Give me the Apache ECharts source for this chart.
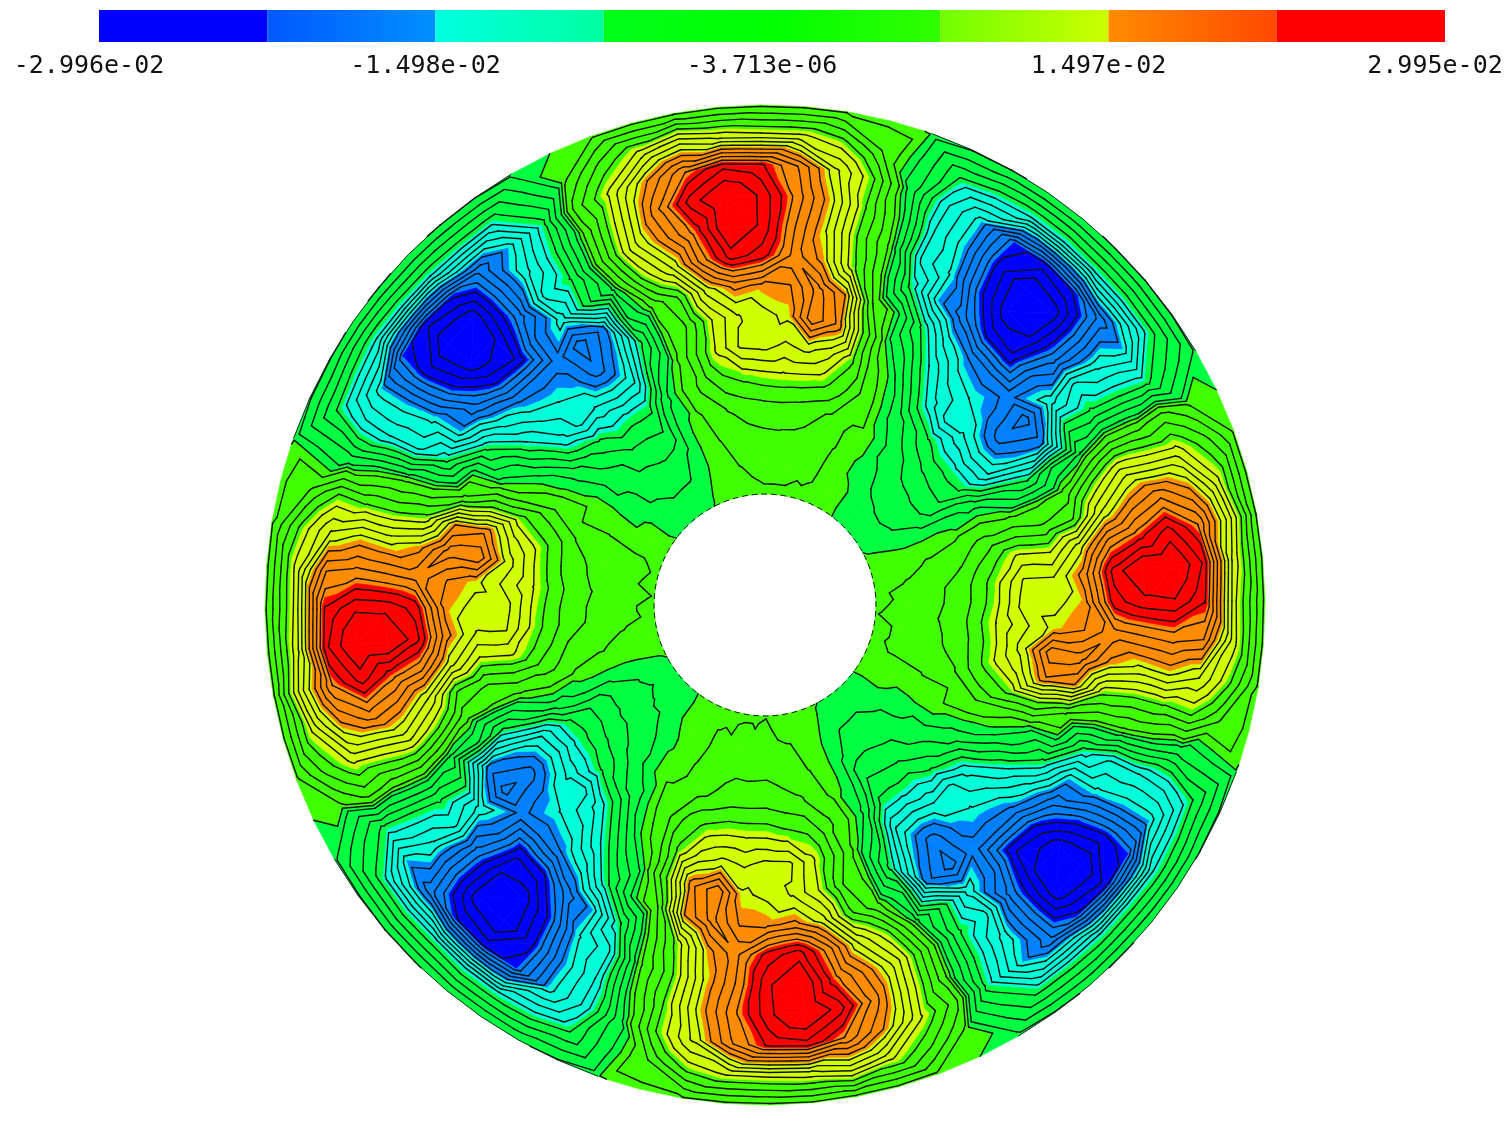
<!DOCTYPE html>
<html><head><meta charset="utf-8">
<style>html,body{margin:0;padding:0;background:#fff}#c{width:1509px;height:1135px}</style>
<script src="https://cdn.jsdelivr.net/npm/echarts@6/dist/echarts.min.js"></script>
</head><body><div id="c"></div>
<script>
// colour bar
const tickLabels = ['-2.996e-02','-1.498e-02','-3.713e-06','1.497e-02','2.995e-02'];
const barStart = ['#0000ff','#0058ff','#00ffe0','#00ff18','#00ff00','#70ff00','#ff8c00','#ff0000'];
const barEnd   = ['#0000ff','#0090ff','#00ffa0','#00ff00','#30ff00','#ccff00','#ff4800','#ff0000'];
// bands of the field, in units of 1e-4
const bandEdges = [-300,-225,-150,-75,0,75,150,225,300];
const bandColors = ['#0000ff','#0080ff','#00ffd8','#00ff40','#40ff00','#d0ff00','#ff8c00','#ff0000'];
const contourLevels = [-271.9,-253.1,-234.4,-215.6,-196.9,-178.1,-159.4,-140.6,-121.9,-103.1,-84.4,-65.6,-46.9,-28.1,-9.4,0,9.4,28.1,46.9,65.6,84.4,103.1,121.9,140.6,159.4,178.1,196.9,215.6,234.4,253.1,271.9];
// radii of the rows, angle of the first column and angle step
const radii = [500,470,440,410,380,350,320,290,260,230,200,170,140,111];
const firstAngle = 115.5, angleStep = -5;
// one table per sector, rows follow radii
const sector1 = [
[0,5,6,6,6,5,6,7,5],
[4,52,88,118,98,90,90,72,26],
[37,90,160,215,250,238,195,125,65],
[20,100,190,262,298,268,208,145,62],
[25,108,170,225,298,268,198,138,58],
[-5,70,122,205,262,245,192,152,72],
[-25,15,50,130,165,155,158,205,160],
[-70,5,30,85,120,135,145,212,175],
[-40,3,45,90,125,130,118,128,110],
[-12,12,37,62,72,78,80,78,72],
[-5,3,18,30,38,42,43,40,33],
[-4,2,9,15,21,24,25,24,20],
[-2,2,6,9,11,12,12,12,11],
[1,2,3,5,7,8,8,8,7]];
const sector2 = [
[-1,-8,-9,-10,-10,-9,-9,-8,-5],
[-12,-65,-78,-85,-85,-80,-80,-76,-40],
[-20,-100,-150,-226,-245,-232,-190,-150,-75],
[-5,-105,-155,-240,-296,-285,-205,-125,-65],
[2,-110,-145,-228,-285,-275,-205,-100,-60],
[8,-70,-150,-190,-240,-250,-175,-130,-55],
[30,-5,-70,-130,-160,-170,-165,-205,-170],
[70,0,-35,-85,-125,-140,-155,-190,-150],
[70,15,-5,-50,-95,-130,-120,-135,-125],
[55,25,3,-15,-40,-60,-75,-75,-70],
[25,10,8,-3,-15,-30,-40,-45,-45],
[15,8,3,-3,-8,-15,-20,-22,-20],
[12,6,3,1,-2,-6,-8,-9,-6],
[5,3,2,1,-1,-3,-3,-3,-1]];
const sector3 = [
[0,6,6,7,6,5,6,6,5],
[5,54,87,119,99,88,92,70,25],
[36,92,158,217,252,236,197,123,66],
[22,99,192,260,297,270,207,147,60],
[24,110,168,227,298,266,199,137,59],
[-6,68,124,204,260,246,190,154,70],
[-24,16,48,132,167,153,159,206,158],
[-68,6,32,84,122,134,147,210,177],
[-42,4,44,92,124,132,117,129,108],
[-13,11,38,60,74,76,82,76,74],
[-6,3,19,29,39,40,44,39,34],
[-4,2,10,14,22,23,26,23,21],
[-2,2,6,8,12,11,13,11,11],
[1,2,3,5,7,8,9,7,7]];
const sector4 = [
[-1,-7,-9,-11,-10,-9,-10,-8,-4],
[-11,-66,-77,-86,-83,-82,-79,-77,-39],
[-21,-98,-152,-227,-246,-231,-192,-148,-77],
[-6,-106,-154,-242,-295,-286,-203,-127,-64],
[3,-108,-146,-226,-287,-274,-206,-99,-61],
[7,-72,-148,-192,-239,-251,-174,-131,-54],
[31,-4,-72,-128,-162,-168,-166,-206,-172],
[68,1,-34,-86,-124,-142,-154,-191,-148],
[71,14,-6,-48,-96,-128,-122,-134,-126],
[54,26,2,-14,-41,-59,-76,-74,-71],
[26,9,7,-3,-16,-29,-41,-44,-46],
[14,8,4,-3,-7,-16,-19,-23,-19],
[12,5,3,1,-2,-5,-9,-8,-7],
[5,3,2,1,-1,-3,-4,-3,-1]];
const sector5 = [
[0,4,6,5,7,5,6,7,4],
[4,51,89,117,97,91,89,73,27],
[38,89,161,214,249,239,194,126,64],
[19,101,189,263,298,267,209,144,63],
[26,107,171,224,297,269,197,139,57],
[-4,71,121,206,263,244,193,151,73],
[-26,14,51,129,164,156,157,204,161],
[-71,5,29,86,119,136,144,213,174],
[-39,3,46,89,126,129,119,127,111],
[-11,13,36,63,71,79,79,79,71],
[-5,3,17,31,37,43,42,41,32],
[-4,2,8,16,20,25,24,25,19],
[-2,2,7,9,10,13,11,13,10],
[1,2,3,5,6,9,8,8,7]];
const sector6 = [
[-1,-8,-10,-10,-11,-9,-9,-7,-5],
[-13,-64,-79,-84,-86,-79,-81,-75,-41],
[-19,-101,-149,-228,-244,-233,-189,-151,-74],
[-4,-104,-156,-239,-297,-284,-206,-124,-66],
[2,-111,-144,-229,-284,-276,-204,-101,-59],
[9,-69,-151,-189,-241,-249,-176,-129,-56],
[29,-6,-69,-131,-159,-171,-164,-204,-169],
[71,0,-36,-84,-126,-139,-156,-189,-151],
[69,16,-4,-51,-94,-131,-119,-136,-124],
[56,24,4,-16,-39,-61,-74,-76,-69],
[24,11,8,-2,-14,-31,-39,-46,-44],
[16,7,3,-2,-9,-14,-21,-21,-21],
[11,6,4,1,-2,-7,-7,-10,-6],
[5,4,2,1,-1,-2,-3,-4,-1]];
const sector7 = [
[0,5,7,6,5,6,5,7,6],
[3,53,86,120,97,89,91,71,24],
[35,91,159,216,251,237,196,124,67],
[21,98,191,261,297,269,206,146,61],
[23,109,169,226,299,267,200,137,60],
[-7,69,123,203,261,247,191,153,71],
[-23,17,49,131,166,154,160,207,159],
[-69,7,31,83,121,133,146,211,176],
[-41,4,43,91,123,131,116,130,109],
[-14,11,39,61,73,77,81,77,73],
[-6,4,19,28,39,41,45,38,34],
[-5,3,10,14,22,23,26,23,21],
[-3,3,5,8,12,11,13,11,12],
[1,3,3,4,7,7,9,7,8]];
const sector8 = [
[-1,-7,-8,-10,-9,-10,-9,-9,-5],
[-11,-67,-76,-87,-84,-81,-78,-78,-38],
[-22,-99,-151,-225,-247,-230,-191,-149,-76],
[-6,-107,-153,-241,-294,-287,-204,-126,-64],
[3,-109,-147,-227,-286,-273,-207,-98,-62],
[7,-71,-149,-191,-238,-252,-173,-132,-53],
[32,-4,-71,-129,-161,-169,-167,-207,-171],
[69,1,-33,-87,-123,-141,-153,-192,-149],
[72,14,-7,-49,-97,-129,-121,-133,-127],
[53,27,2,-13,-42,-58,-77,-73,-72],
[27,9,7,-4,-16,-28,-42,-43,-46],
[14,9,4,-4,-7,-17,-19,-24,-19],
[13,5,2,1,-3,-5,-9,-8,-7],
[6,3,1,1,-1,-3,-4,-2,-2]];

const sectors = [sector1,sector2,sector3,sector4,sector5,sector6,sector7,sector8];
const rowsOf = radii.map((_, i) => sectors.reduce((a, s) => a.concat(s[i]), []));
const nCols = rowsOf[0].length;
const vertex = (i, j) => ({ r: radii[i], a: firstAngle + angleStep * j, v: rowsOf[i][j % nCols] });

function mix(p, q, lvl) {
  const t = (lvl - p.v) / (q.v - p.v);
  return { r: p.r + (q.r - p.r) * t, a: p.a + (q.a - p.a) * t, v: lvl };
}
// keep the part of a polygon on one side of a level
function clip(poly, lvl, above) {
  const out = [];
  poly.forEach((p, k) => {
    const q = poly[(k + 1) % poly.length];
    const pin = above ? p.v >= lvl : p.v <= lvl;
    const qin = above ? q.v >= lvl : q.v <= lvl;
    if (pin) out.push(p);
    if (pin !== qin) out.push(mix(p, q, lvl));
  });
  return out;
}
const trianglesOf = (i, j) => {
  const a = vertex(i, j), b = vertex(i, j + 1), c = vertex(i + 1, j + 1), d = vertex(i + 1, j);
  return (i + j) % 2 ? [[a, b, c], [a, c, d]] : [[a, b, d], [b, c, d]];
};
const cells = [];
for (let i = 0; i < radii.length - 1; i++) for (let j = 0; j < nCols; j++) {
  cells.push([radii[i], ((firstAngle + angleStep * j) % 360 + 360) % 360, i, j]);
}
const toPoint = (api, p) => api.coord([p.r, ((p.a % 360) + 360) % 360]);

function renderBands(params, api) {
  const children = [];
  trianglesOf(api.value(2), api.value(3)).forEach(tri => {
    bandColors.forEach((col, b) => {
      let poly = clip(tri, bandEdges[b], true);
      if (poly.length) poly = clip(poly, bandEdges[b + 1], false);
      if (poly.length > 2) children.push({
        type: 'polygon',
        shape: { points: poly.map(p => toPoint(api, p)) },
        style: { fill: col, stroke: col, lineWidth: 0.7 }
      });
    });
  });
  return { type: 'group', children };
}
const segment = (A, B, style) => ({
  type: 'line',
  shape: { x1: A[0], y1: A[1], x2: B[0], y2: B[1] },
  style
});
function renderLines(params, api) {
  const children = [];
  const i = api.value(2), j = api.value(3);
  const lineStyle = { stroke: '#111', lineWidth: 1.4, lineCap: 'round' };
  trianglesOf(i, j).forEach(tri => {
    contourLevels.forEach(lvl => {
      const pts = [];
      tri.forEach((p, k) => {
        const q = tri[(k + 1) % 3];
        if ((p.v < lvl) !== (q.v < lvl)) pts.push(mix(p, q, lvl));
      });
      if (pts.length === 2) children.push(segment(toPoint(api, pts[0]), toPoint(api, pts[1]), lineStyle));
    });
  });
  // rim of the sectors with negative values, and the broken outline of the bore
  if (i === 0 && vertex(0, j).v < 0 && vertex(0, j + 1).v < 0) {
    children.push(segment(toPoint(api, vertex(0, j)), toPoint(api, vertex(0, j + 1)),
      { stroke: '#222', lineWidth: 1 }));
  }
  if (i === radii.length - 2) {
    children.push(segment(toPoint(api, vertex(i + 1, j)), toPoint(api, vertex(i + 1, j + 1)),
      { stroke: '#111', lineWidth: 1, lineDash: [3, 4] }));
  }
  return { type: 'group', children };
}
function renderBar(params, api) {
  const i = api.value(0);
  const s = api.coord([i, 1]), e = api.coord([i + 1, 0]);
  return {
    type: 'rect',
    shape: { x: s[0], y: s[1], width: e[0] - s[0], height: e[1] - s[1] },
    style: { fill: new echarts.graphic.LinearGradient(0, 0, 1, 0, [
      { offset: 0, color: barStart[i] }, { offset: 1, color: barEnd[i] }]) }
  };
}
const chart = echarts.init(document.getElementById('c'), null, { renderer: 'canvas' });
chart.setOption({
  animation: false,
  backgroundColor: '#fff',
  grid: { left: 99, top: 10, width: 1346, height: 32 },
  xAxis: {
    type: 'value', min: 0, max: 8, interval: 2,
    axisLine: { show: false }, axisTick: { show: false }, splitLine: { show: false },
    axisLabel: {
      formatter: v => tickLabels[v / 2], margin: 12, padding: [0, 20, 0, 0],
      fontFamily: 'DejaVu Sans Mono', fontSize: 25, color: '#111', hideOverlap: false,
      showMinLabel: true, showMaxLabel: true
    }
  },
  yAxis: { type: 'value', min: 0, max: 1, show: false },
  polar: { center: [765, 605], radius: [0, 500] },
  radiusAxis: { type: 'value', min: 0, max: 500, show: false },
  angleAxis: { type: 'value', min: 0, max: 360, startAngle: 0, clockwise: false, show: false },
  series: [
    { type: 'custom', coordinateSystem: 'cartesian2d', data: barStart.map((_, i) => [i, 0]),
      encode: { x: 0, y: 1 }, renderItem: renderBar, silent: true, clip: false },
    { type: 'custom', coordinateSystem: 'polar', data: cells, encode: { radius: 0, angle: 1 },
      renderItem: renderBands, silent: true, clip: false, z: 2 },
    { type: 'custom', coordinateSystem: 'polar', data: cells, encode: { radius: 0, angle: 1 },
      renderItem: renderLines, silent: true, clip: false, z: 3 }
  ]
});
</script></body></html>
